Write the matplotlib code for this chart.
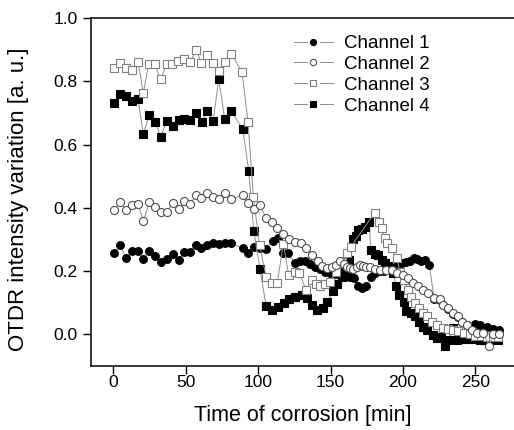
import matplotlib
matplotlib.use("Agg")
import matplotlib.pyplot as plt
from matplotlib.lines import Line2D
from matplotlib.legend_handler import HandlerBase

plt.rcParams['font.family'] = ['Liberation Sans', 'DejaVu Sans']

# ---- data ----
t1 = [0.5, 4.6, 8.8, 12.9, 17.1, 20.7, 24.9, 29, 32.7, 36.9, 41, 45.2, 48.8, 53, 57.1, 60.8,
      64.9, 69, 72.8, 76.9, 81.1, 89.4, 93, 97.2, 101.3, 105.5, 110, 114, 117.4, 120.5, 125.4,
      129, 132.5, 135.9, 139.3, 142.7, 146.2, 149.6, 153, 156.5, 160, 163.4, 166.5, 169.2,
      171.5, 174.5, 178, 181, 184, 187, 190, 193, 196, 199.2, 202, 204.9, 207.5, 210, 212.5,
      215.3, 218.3, 221.5, 225.6, 227.9, 231.4, 234.8, 238, 240.7, 244.1, 249.8, 253.2,
      257.8, 262.4, 266]
y1 = [0.256, 0.283, 0.240, 0.264, 0.264, 0.237, 0.264, 0.246, 0.228, 0.237, 0.253, 0.235,
      0.259, 0.261, 0.283, 0.272, 0.283, 0.290, 0.285, 0.288, 0.288, 0.272, 0.256, 0.277,
      0.274, 0.270, 0.296, 0.303, 0.256, 0.256, 0.225, 0.233, 0.230, 0.222, 0.214, 0.206,
      0.198, 0.193, 0.191, 0.188, 0.182, 0.180, 0.177, 0.151, 0.146, 0.153, 0.180, 0.195,
      0.200, 0.200, 0.205, 0.210, 0.218, 0.225, 0.228, 0.230, 0.240, 0.238, 0.232, 0.235,
      0.218, 0.112, 0.109, 0.091, 0.080, 0.064, 0.054, 0.038, 0.030, 0.033, 0.029, 0.024,
      0.016, 0.014]

t2 = [0.5, 4.6, 8.8, 12.9, 17.1, 20.7, 24.9, 29, 32.7, 36.9, 41, 45.2, 48.8, 53, 57.1, 60.8,
      64.9, 69, 72.8, 76.9, 81.1, 89.4, 93, 97.2, 101, 105.5, 109.6, 113.3, 117.4, 121.5,
      125.5, 129.4, 133.4, 137.5, 141.2, 144.3, 147.4, 150.8, 153.8, 156.6, 159, 161.2, 163.5,
      165.7, 168, 170.3, 172.5, 174.4, 177.2, 180.7, 184.2, 188, 192.3, 196.2, 199.9, 203.7,
      207.2, 210.7, 214.1, 217.6, 221.5, 225.6, 227.9, 231.4, 234.8, 238, 240.7, 244.1, 247.6,
      251, 255.5, 259.7, 262.4, 266]
y2 = [0.393, 0.418, 0.393, 0.409, 0.411, 0.358, 0.417, 0.401, 0.388, 0.388, 0.415, 0.396,
      0.420, 0.411, 0.441, 0.430, 0.446, 0.435, 0.427, 0.448, 0.427, 0.441, 0.415, 0.396,
      0.410, 0.367, 0.356, 0.335, 0.317, 0.302, 0.291, 0.288, 0.272, 0.250, 0.230, 0.215,
      0.209, 0.212, 0.219, 0.230, 0.222, 0.212, 0.208, 0.206, 0.212, 0.219, 0.215, 0.212,
      0.212, 0.206, 0.204, 0.204, 0.204, 0.195, 0.188, 0.177, 0.161, 0.151, 0.140, 0.130,
      0.114, 0.111, 0.093, 0.082, 0.066, 0.056, 0.040, 0.029, 0.014, 0.003, 0.003, -0.039,
      0.001, 0.001]

t3 = [0.5, 4.6, 8.8, 12.9, 17.1, 20.7, 24.4, 28.6, 32.7, 36.9, 40.5, 44.7, 48.8, 53, 57.1,
      60.8, 64.9, 69, 73.2, 77.3, 81.5, 88.9, 93, 96.7, 101, 105.5, 109.6, 113.3, 117.4, 121.1,
      125.3, 128.4, 133.1, 137, 140, 142.7, 146, 149.6, 153.8, 157.7, 161.2, 164, 180.7,
      183.7, 185.3, 187.6, 189.2, 192.3, 195.7, 198, 200.8, 203.7, 205.4, 208.4, 211.3, 213.7,
      216.4, 219.9, 223.5, 227.5, 231, 234.8, 238, 242, 246, 250, 254, 258, 262, 265.5]
y3 = [0.842, 0.858, 0.844, 0.836, 0.862, 0.763, 0.855, 0.855, 0.807, 0.855, 0.855, 0.865,
      0.872, 0.862, 0.900, 0.860, 0.885, 0.858, 0.834, 0.862, 0.887, 0.830, 0.672, 0.435,
      0.283, 0.182, 0.161, 0.163, 0.286, 0.188, 0.198, 0.195, 0.140, 0.172, 0.160, 0.151,
      0.160, 0.166, 0.198, 0.227, 0.256, 0.277, 0.385, 0.356, 0.335, 0.304, 0.288, 0.272,
      0.240, 0.198, 0.172, 0.140, 0.119, 0.098, 0.082, 0.066, 0.056, 0.040, 0.030, 0.019,
      0.016, 0.014, 0.010, 0.005, 0.000, -0.005, -0.005, -0.010, -0.010, -0.010]

t4 = [0.5, 4.6, 8.8, 12.9, 17.1, 20.7, 24.9, 29, 32.7, 36.9, 41, 45.2, 48.8, 53, 57.1, 61.3,
      64.9, 69, 72.8, 76.9, 81.1, 89.4, 93.5, 97, 101.3, 105.5, 109.5, 113.6, 117.6, 121.5,
      125.7, 130.1, 133.5, 137, 140.9, 144.6, 147.4, 151.9, 154.3, 157.7, 160, 162.5, 165.7,
      167.5, 169.2, 171.5, 174, 176.8, 177.8, 180.5, 182.9, 185.3, 187.6, 190, 193.4, 195.3,
      197.6, 200.8, 202.2, 205.4, 208.4, 211.3, 213.7, 216.4, 221, 223.3, 226, 229.1, 231.4,
      234.8, 237.2, 241, 245, 249, 253, 257, 261, 265.9]
y4 = [0.731, 0.760, 0.754, 0.738, 0.744, 0.634, 0.693, 0.673, 0.623, 0.676, 0.659, 0.678,
      0.680, 0.678, 0.701, 0.672, 0.708, 0.676, 0.808, 0.681, 0.708, 0.649, 0.518, 0.327,
      0.206, 0.090, 0.076, 0.086, 0.098, 0.110, 0.119, 0.124, 0.114, 0.093, 0.077, 0.082,
      0.103, 0.135, 0.160, 0.182, 0.198, 0.235, 0.300, 0.310, 0.330, 0.332, 0.340, 0.356,
      0.267, 0.255, 0.251, 0.235, 0.225, 0.216, 0.193, 0.151, 0.124, 0.103, 0.072, 0.066,
      0.056, 0.040, 0.024, 0.014, -0.002, -0.013, -0.010, -0.039, -0.018, 0.019, -0.018,
      -0.015, -0.015, -0.015, -0.018, -0.018, -0.018, -0.018]

labels = ["Channel 1", "Channel 2", "Channel 3", "Channel 4"]
xticks = [0, 50, 100, 150, 200, 250]
yticks = [0.0, 0.2, 0.4, 0.6, 0.8, 1.0]

# ---- figure ----
fig = plt.figure(figsize=(5.14, 4.30), dpi=100)
ax = fig.add_axes([0.1765, 0.1495, 0.8235, 0.8079])

line_c = "#8f8f8f"
lw = 0.7
s1 = dict(marker='o', ms=5.6, mfc='black', mec='black', mew=0.8)
s2 = dict(marker='o', ms=5.8, mfc='white', mec='#505050', mew=0.8)
s3 = dict(marker='s', ms=5.1, mfc='white', mec='#808080', mew=0.8)
s4 = dict(marker='s', ms=5.1, mfc='black', mec='black', mew=0.8)
styles = [s1, s2, s3, s4]

ax.plot(t1, y1, color=line_c, lw=lw, zorder=2, **s1)
ax.plot(t4, y4, color=line_c, lw=lw, zorder=3, **s4)
ax.plot(t3, y3, color=line_c, lw=lw, zorder=4, **s3)
ax.plot(t2, y2, color=line_c, lw=lw, zorder=5, **s2)

ax.set_xlim(-15.6, 276.7)
ax.set_ylim(-0.1, 1.0)
ax.set_xticks(xticks)
ax.set_xticklabels([str(v) for v in xticks])
ax.set_yticks(yticks)
ax.set_yticklabels([f"{v:.1f}" for v in yticks])
ax.spines['right'].set_visible(False)
for sp in ('left', 'bottom', 'top'):
    ax.spines[sp].set_linewidth(1.1)
ax.tick_params(axis='both', direction='out', length=5.5, width=1.0, labelsize=12.5)
ax.tick_params(axis='x', pad=1)
ax.tick_params(axis='y', pad=4)
ax.tick_params(axis='x', top=False)
ax.set_xlabel("Time of corrosion [min]", fontsize=15.5, labelpad=11)
ax.set_ylabel("OTDR intensity variation [a. u.]", fontsize=16)
ax.yaxis.set_label_coords(-0.145, 0.48)


class BrokenLineHandler(HandlerBase):
    def create_artists(self, legend, orig_handle, xdescent, ydescent, width, height,
                       fontsize, trans):
        y = height / 2.0 - ydescent
        x0 = -xdescent
        gap = 0.32 * width
        mid = x0 + width / 2.0
        l1 = Line2D([x0, mid - gap / 2], [y, y], color=line_c, lw=lw)
        l2 = Line2D([mid + gap / 2, x0 + width], [y, y], color=line_c, lw=lw)
        m = Line2D([mid], [y], linestyle='none', marker=orig_handle.get_marker(),
                   ms=orig_handle.get_markersize() * 0.78,
                   mfc=orig_handle.get_markerfacecolor(),
                   mec=orig_handle.get_markeredgecolor(), mew=0.8)
        for a in (l1, l2, m):
            a.set_transform(trans)
        return [l1, l2, m]


handles = [Line2D([], [], linestyle='none', **s) for s in styles]
ax.legend(handles, labels, loc='upper left', bbox_to_anchor=(0.48, 0.952), frameon=False,
          fontsize=13.5, handlelength=2.08, handletextpad=0.59, labelspacing=0.2,
          borderpad=0, borderaxespad=0,
          handler_map={Line2D: BrokenLineHandler()})

fig.savefig("out.png", dpi=100)
